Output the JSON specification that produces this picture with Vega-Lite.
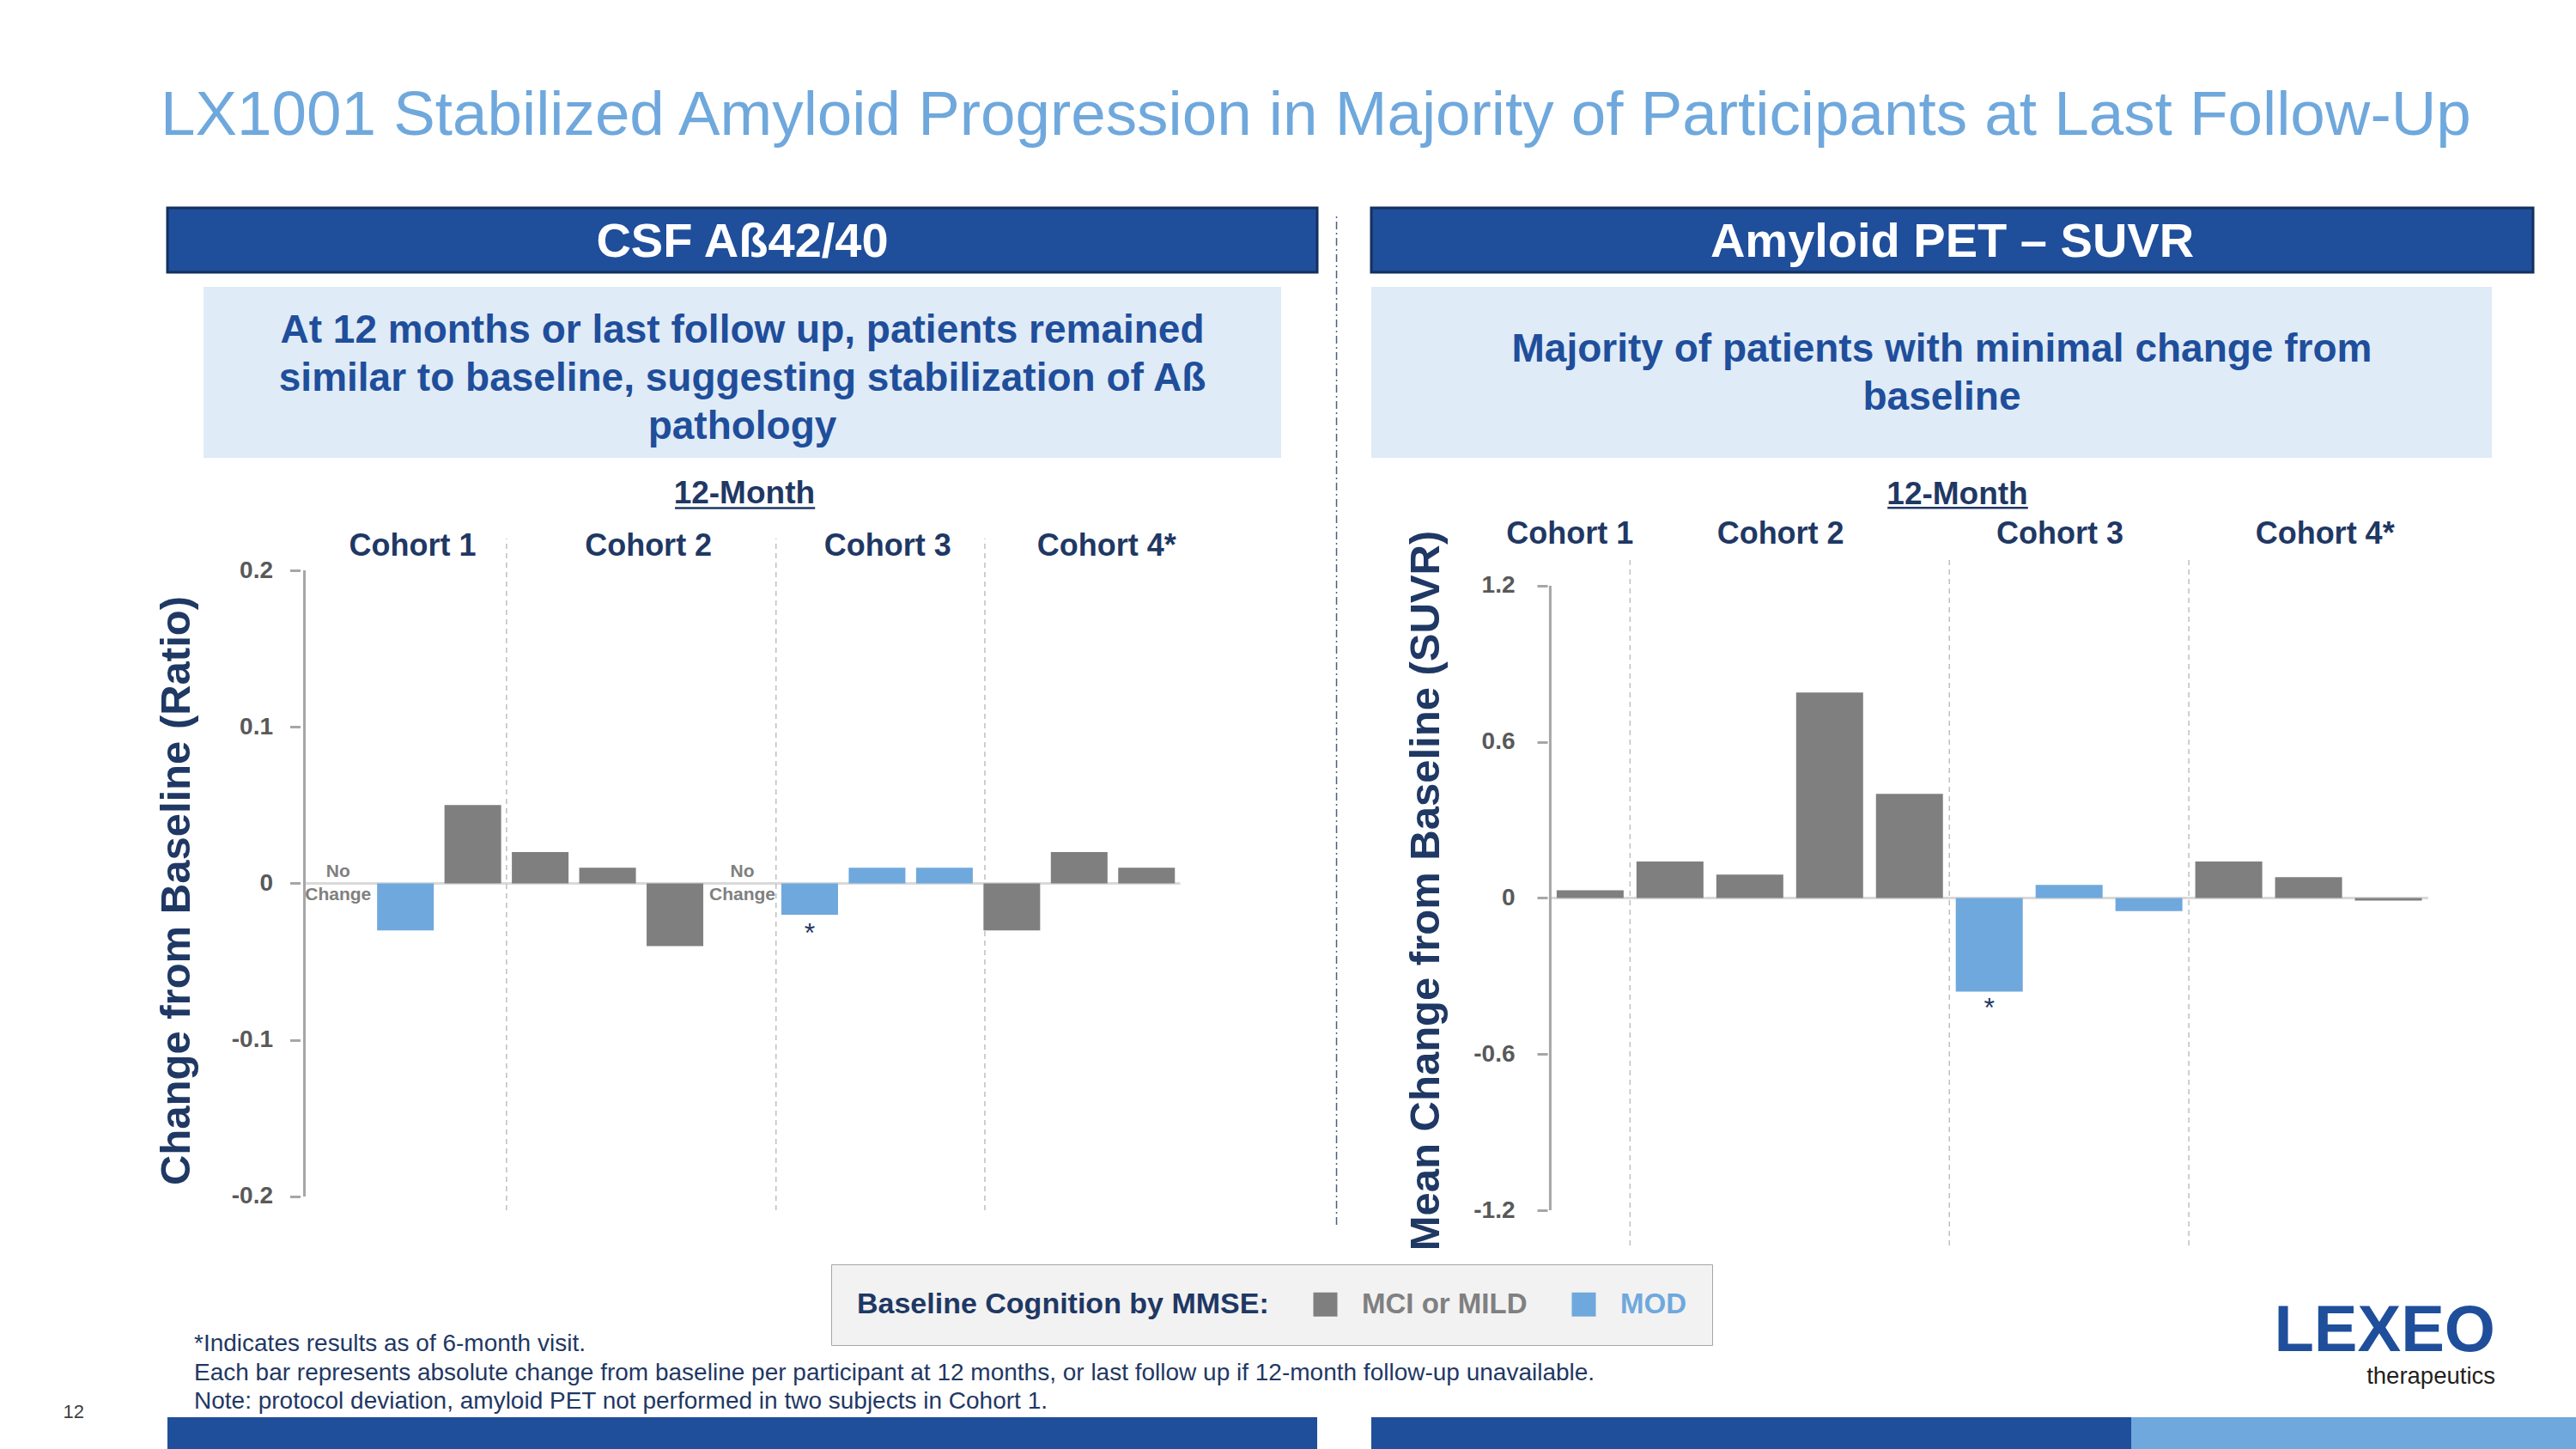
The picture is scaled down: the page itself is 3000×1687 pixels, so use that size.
{
  "$schema": "https://vega.github.io/schema/vega-lite/v6.json",
  "background": "white",
  "padding": {"left": 73, "top": 98, "right": 0, "bottom": 0},
  "config": {"font": "Liberation Sans", "view": {"stroke": null}},
  "title": {
    "text": "LX1001 Stabilized Amyloid Progression in Majority of Participants at Last Follow-Up",
    "anchor": "start", "frame": "group", "fontSize": 72.8, "fontWeight": "normal",
    "color": "#6FA8DC", "offset": 69, "dx": -8
  },
  "datasets": {
    "csf": [
      {"slot": 1, "cohort": "Cohort 1", "group": null, "value": null, "note": "No Change"},
      {"slot": 2, "cohort": "Cohort 1", "group": "MOD", "value": -0.03, "note": ""},
      {"slot": 3, "cohort": "Cohort 1", "group": "MCI or MILD", "value": 0.05, "note": ""},
      {"slot": 4, "cohort": "Cohort 2", "group": "MCI or MILD", "value": 0.02, "note": ""},
      {"slot": 5, "cohort": "Cohort 2", "group": "MCI or MILD", "value": 0.01, "note": ""},
      {"slot": 6, "cohort": "Cohort 2", "group": "MCI or MILD", "value": -0.04, "note": ""},
      {"slot": 7, "cohort": "Cohort 2", "group": null, "value": null, "note": "No Change"},
      {"slot": 8, "cohort": "Cohort 3", "group": "MOD", "value": -0.02, "note": "*"},
      {"slot": 9, "cohort": "Cohort 3", "group": "MOD", "value": 0.01, "note": ""},
      {"slot": 10, "cohort": "Cohort 3", "group": "MOD", "value": 0.01, "note": ""},
      {"slot": 11, "cohort": "Cohort 4*", "group": "MCI or MILD", "value": -0.03, "note": ""},
      {"slot": 12, "cohort": "Cohort 4*", "group": "MCI or MILD", "value": 0.02, "note": ""},
      {"slot": 13, "cohort": "Cohort 4*", "group": "MCI or MILD", "value": 0.01, "note": ""}
    ],
    "pet": [
      {"slot": 1, "cohort": "Cohort 1", "group": "MCI or MILD", "value": 0.03, "note": ""},
      {"slot": 2, "cohort": "Cohort 2", "group": "MCI or MILD", "value": 0.14, "note": ""},
      {"slot": 3, "cohort": "Cohort 2", "group": "MCI or MILD", "value": 0.09, "note": ""},
      {"slot": 4, "cohort": "Cohort 2", "group": "MCI or MILD", "value": 0.79, "note": ""},
      {"slot": 5, "cohort": "Cohort 2", "group": "MCI or MILD", "value": 0.40, "note": ""},
      {"slot": 6, "cohort": "Cohort 3", "group": "MOD", "value": -0.36, "note": "*"},
      {"slot": 7, "cohort": "Cohort 3", "group": "MOD", "value": 0.05, "note": ""},
      {"slot": 8, "cohort": "Cohort 3", "group": "MOD", "value": -0.05, "note": ""},
      {"slot": 9, "cohort": "Cohort 4*", "group": "MCI or MILD", "value": 0.14, "note": ""},
      {"slot": 10, "cohort": "Cohort 4*", "group": "MCI or MILD", "value": 0.08, "note": ""},
      {"slot": 11, "cohort": "Cohort 4*", "group": "MCI or MILD", "value": -0.01, "note": ""}
    ]
  },
  "columns": 2,
  "bounds": "flush",
  "center": true,
  "spacing": {"row": 17, "column": 63},
  "resolve": {"scale": {"x": "independent", "y": "independent", "color": "shared"}, "legend": {"color": "shared"}},
  "concat": [
    {
      "width": 1339, "height": 75,
      "view": {"fill": "#1F4E9B", "stroke": "#14305E", "strokeWidth": 3},
      "data": {"values": [{"t": "CSF Aß42/40"}]},
      "mark": {"type": "text", "color": "white", "fontSize": 56, "fontWeight": "bold", "baseline": "middle", "align": "center", "dy": 2},
      "encoding": {"text": {"field": "t"}}
    },
    {
      "width": 1353, "height": 75,
      "view": {"fill": "#1F4E9B", "stroke": "#14305E", "strokeWidth": 3},
      "data": {"values": [{"t": "Amyloid PET – SUVR"}]},
      "mark": {"type": "text", "color": "white", "fontSize": 56, "fontWeight": "bold", "baseline": "middle", "align": "center", "dy": 2},
      "encoding": {"text": {"field": "t"}}
    },
    {
      "width": 1255, "height": 199,
      "view": {"fill": "#DFEBF7"},
      "data": {"values": [{"t": "At 12 months or last follow up, patients remained|similar to baseline, suggesting stabilization of Aß|pathology"}]},
      "mark": {"type": "text", "color": "#1F4E9B", "fontSize": 46, "fontWeight": "bold", "baseline": "middle", "align": "center", "lineBreak": "|", "lineHeight": 56, "dy": -49},
      "encoding": {"text": {"field": "t"}}
    },
    {
      "width": 1305, "height": 199,
      "view": {"fill": "#DFEBF7"},
      "data": {"values": [{"t": "Majority of patients with minimal change from|baseline"}]},
      "mark": {"type": "text", "color": "#1F4E9B", "fontSize": 46, "fontWeight": "bold", "baseline": "middle", "align": "center", "lineBreak": "|", "lineHeight": 56, "dy": -27, "dx": 12},
      "encoding": {"text": {"field": "t"}}
    },
    {"width": 1030, "height": 97, "data": {"values": []}, "mark": "point"},
    {"width": 1236, "height": 97, "data": {"values": []}, "mark": "point"},
    {
      "width": 1030, "height": 745,
      "data": {"name": "csf"},
      "layer": [
        {
          "data": {"values": [{}]},
          "mark": {"type": "rule", "color": "#D9D9D9", "strokeWidth": 3},
          "encoding": {
            "x": {"datum": 0.5, "type": "quantitative", "scale": {"domain": [0.5, 13.5], "nice": false, "zero": false}, "axis": {"title": null}},
            "x2": {"datum": 13.5},
            "y": {"datum": 0, "type": "quantitative", "scale": {"domain": [-0.2088, 0.2], "nice": false, "zero": false}}
          }
        },
        {
          "data": {"values": [{"boundary": 3.5}, {"boundary": 7.5}, {"boundary": 10.6}]},
          "mark": {"type": "rule", "color": "#BFBFBF", "strokeWidth": 1.5, "strokeDash": [6, 5]},
          "encoding": {
            "x": {"field": "boundary", "type": "quantitative", "scale": {"domain": [0.5, 13.5], "nice": false, "zero": false}, "axis": {"title": null}},
            "y": {"datum": -0.2088, "type": "quantitative", "scale": {"domain": [-0.2088, 0.2], "nice": false, "zero": false}},
            "y2": {"datum": 0.2203}
          }
        },
        {
          "data": {"values": [{}]},
          "mark": {"type": "rule", "color": "#1F3864", "strokeWidth": 1.5, "strokeDash": [9, 4, 2, 4], "opacity": 0.8},
          "encoding": {
            "x": {"datum": 15.82, "type": "quantitative", "scale": {"domain": [0.5, 13.5], "nice": false, "zero": false}, "axis": {"title": null}},
            "y": {"datum": -0.2181, "type": "quantitative", "scale": {"domain": [-0.2088, 0.2], "nice": false, "zero": false}},
            "y2": {"datum": 0.4266}
          }
        },
        {
          "data": {"values": [{"t": "12-Month"}]},
          "mark": {"type": "text", "fontSize": 37, "fontWeight": "bold", "color": "#1F3864", "baseline": "middle", "align": "center"},
          "encoding": {
            "x": {"datum": 7.03, "type": "quantitative", "scale": {"domain": [0.5, 13.5], "nice": false, "zero": false}, "axis": {"title": null}},
            "y": {"datum": 0.2488, "type": "quantitative", "scale": {"domain": [-0.2088, 0.2], "nice": false, "zero": false}},
            "text": {"field": "t"}
          }
        },
        {
          "data": {"values": [{}]},
          "mark": {"type": "rule", "color": "#1F3864", "strokeWidth": 2.5},
          "encoding": {
            "x": {"datum": 6.0, "type": "quantitative", "scale": {"domain": [0.5, 13.5], "nice": false, "zero": false}, "axis": {"title": null}},
            "x2": {"datum": 8.08},
            "y": {"datum": 0.2398, "type": "quantitative", "scale": {"domain": [-0.2088, 0.2], "nice": false, "zero": false}}
          }
        },
        {
          "transform": [{"filter": "isValid(datum.value)"}],
          "mark": {"type": "bar", "orient": "vertical", "width": 66},
          "encoding": {
            "x": {
              "field": "slot", "type": "quantitative",
              "scale": {"domain": [0.5, 13.5], "nice": false, "zero": false},
              "axis": {
                "orient": "top", "values": [2.1, 5.6, 9.15, 12.4],
                "labelExpr": "datum.value < 3 ? 'Cohort 1' : datum.value < 7 ? 'Cohort 2' : datum.value < 10 ? 'Cohort 3' : 'Cohort 4*'",
                "labelFontSize": 36, "labelFontWeight": "bold", "labelColor": "#1F3864", "labelPadding": 10,
                "domain": false, "ticks": false, "grid": false, "title": null, "labelFlush": false, "labelOverlap": false
              }
            },
            "y": {
              "field": "value", "type": "quantitative", "stack": null,
              "scale": {"domain": [-0.2088, 0.2], "nice": false, "zero": false},
              "axis": {
                "orient": "left", "values": [-0.2, -0.1, 0, 0.1, 0.2], "labelExpr": "toString(datum.value)",
                "title": "Change from Baseline (Ratio)", "titleFontSize": 49, "titleFontWeight": "bold", "titleColor": "#1F3864", "titlePadding": 39,
                "labelFontSize": 28, "labelFontWeight": "bold", "labelColor": "#595959", "labelPadding": 20,
                "tickSize": 12, "tickWidth": 3, "tickColor": "#A6A6A6", "domain": false, "grid": false
              }
            },
            "color": {
              "field": "group", "type": "nominal",
              "scale": {"domain": ["MCI or MILD", "MOD"], "range": ["#7F7F7F", "#6FA8DC"]},
              "legend": {
                "orient": "none", "legendX": 773, "legendY": 1230, "direction": "horizontal",
                "title": "Baseline Cognition by MMSE:", "titleOrient": "left", "titleFontSize": 34, "titleFontWeight": "bold", "titleColor": "#1F3864", "titlePadding": 49, "titleLimit": 1000,
                "symbolType": "square", "symbolSize": 784, "symbolStrokeWidth": 0, "symbolOpacity": 1,
                "labelFontSize": 33, "labelFontWeight": "bold",
                "labelColor": {"expr": "datum.label == 'MOD' ? '#6FA8DC' : '#808080'"},
                "labelOffset": 26, "columnPadding": 49, "padding": 30, "labelLimit": 500,
                "fillColor": "#F2F2F2", "strokeColor": "#A6A6A6"
              }
            }
          }
        },
        {
          "data": {"values": [{}]},
          "mark": {"type": "rule", "color": "#A6A6A6", "strokeWidth": 3},
          "encoding": {
            "x": {"datum": 0.5, "type": "quantitative", "scale": {"domain": [0.5, 13.5], "nice": false, "zero": false}, "axis": {"title": null}},
            "y": {"datum": -0.2, "type": "quantitative", "scale": {"domain": [-0.2088, 0.2], "nice": false, "zero": false}},
            "y2": {"datum": 0.2}
          }
        },
        {
          "transform": [{"filter": "datum.note == 'No Change'"}],
          "mark": {"type": "text", "fontSize": 21, "fontWeight": "bold", "color": "#808080", "baseline": "bottom", "align": "center", "lineBreak": " ", "lineHeight": 27, "dy": -3},
          "encoding": {
            "x": {"field": "slot", "type": "quantitative", "scale": {"domain": [0.5, 13.5], "nice": false, "zero": false}, "axis": {"title": null}},
            "y": {"datum": 0, "type": "quantitative", "scale": {"domain": [-0.2088, 0.2], "nice": false, "zero": false}},
            "text": {"field": "note"}
          }
        },
        {
          "transform": [{"filter": "datum.note == '*'"}],
          "mark": {"type": "text", "fontSize": 32, "color": "#1F3864", "baseline": "top", "align": "center", "dy": 7},
          "encoding": {
            "x": {"field": "slot", "type": "quantitative", "scale": {"domain": [0.5, 13.5], "nice": false, "zero": false}, "axis": {"title": null}},
            "y": {"field": "value", "type": "quantitative", "scale": {"domain": [-0.2088, 0.2], "nice": false, "zero": false}},
            "text": {"field": "note"}
          }
        }
      ]
    },
    {
      "width": 1236, "height": 745,
      "data": {"name": "pet"},
      "layer": [
        {
          "data": {"values": [{}]},
          "mark": {"type": "rule", "color": "#D9D9D9", "strokeWidth": 3},
          "encoding": {
            "x": {"datum": 0.5, "type": "quantitative", "scale": {"domain": [-1.688, 11.5], "nice": false, "zero": false}, "axis": {"title": null}},
            "x2": {"datum": 11.5},
            "y": {"datum": 0, "type": "quantitative", "scale": {"domain": [-1.2, 1.2593], "nice": false, "zero": false}}
          }
        },
        {
          "data": {"values": [{"boundary": 1.5}, {"boundary": 5.5}, {"boundary": 8.5}]},
          "mark": {"type": "rule", "color": "#BFBFBF", "strokeWidth": 1.5, "strokeDash": [6, 5]},
          "encoding": {
            "x": {"field": "boundary", "type": "quantitative", "scale": {"domain": [-1.688, 11.5], "nice": false, "zero": false}, "axis": {"title": null}},
            "y": {"datum": -1.335, "type": "quantitative", "scale": {"domain": [-1.2, 1.2593], "nice": false, "zero": false}},
            "y2": {"datum": 1.315}
          }
        },
        {
          "data": {"values": [{"t": "12-Month"}]},
          "mark": {"type": "text", "fontSize": 37, "fontWeight": "bold", "color": "#1F3864", "baseline": "middle", "align": "center"},
          "encoding": {
            "x": {"datum": 5.6, "type": "quantitative", "scale": {"domain": [-1.688, 11.5], "nice": false, "zero": false}, "axis": {"title": null}},
            "y": {"datum": 1.549, "type": "quantitative", "scale": {"domain": [-1.2, 1.2593], "nice": false, "zero": false}},
            "text": {"field": "t"}
          }
        },
        {
          "data": {"values": [{}]},
          "mark": {"type": "rule", "color": "#1F3864", "strokeWidth": 2.5},
          "encoding": {
            "x": {"datum": 4.725, "type": "quantitative", "scale": {"domain": [-1.688, 11.5], "nice": false, "zero": false}, "axis": {"title": null}},
            "x2": {"datum": 6.485},
            "y": {"datum": 1.4996, "type": "quantitative", "scale": {"domain": [-1.2, 1.2593], "nice": false, "zero": false}}
          }
        },
        {
          "mark": {"type": "bar", "orient": "vertical", "width": 78},
          "encoding": {
            "x": {
              "field": "slot", "type": "quantitative",
              "scale": {"domain": [-1.688, 11.5], "nice": false, "zero": false},
              "axis": {
                "orient": "top", "values": [0.74, 3.38, 6.88, 10.2],
                "labelExpr": "datum.value < 2 ? 'Cohort 1' : datum.value < 5.5 ? 'Cohort 2' : datum.value < 8.5 ? 'Cohort 3' : 'Cohort 4*'",
                "labelFontSize": 36, "labelFontWeight": "bold", "labelColor": "#1F3864", "labelPadding": 24,
                "domain": false, "ticks": false, "grid": false, "title": null, "labelFlush": false, "labelOverlap": false
              }
            },
            "y": {
              "field": "value", "type": "quantitative", "stack": null,
              "scale": {"domain": [-1.2, 1.2593], "nice": false, "zero": false},
              "axis": {
                "orient": "left", "offset": -205, "values": [-1.2, -0.6, 0, 0.6, 1.2], "labelExpr": "toString(datum.value)",
                "title": "Mean Change from Baseline (SUVR)", "titleFontSize": 49, "titleFontWeight": "bold", "titleColor": "#1F3864", "titlePadding": 30,
                "labelFontSize": 28, "labelFontWeight": "bold", "labelColor": "#595959", "labelPadding": 26,
                "tickSize": 12, "tickWidth": 3, "tickColor": "#A6A6A6", "domain": false, "grid": false
              }
            },
            "color": {
              "field": "group", "type": "nominal",
              "scale": {"domain": ["MCI or MILD", "MOD"], "range": ["#7F7F7F", "#6FA8DC"]},
              "legend": {
                "orient": "none", "legendX": 773, "legendY": 1230, "direction": "horizontal",
                "title": "Baseline Cognition by MMSE:", "titleOrient": "left", "titleFontSize": 34, "titleFontWeight": "bold", "titleColor": "#1F3864", "titlePadding": 49, "titleLimit": 1000,
                "symbolType": "square", "symbolSize": 784, "symbolStrokeWidth": 0, "symbolOpacity": 1,
                "labelFontSize": 33, "labelFontWeight": "bold",
                "labelColor": {"expr": "datum.label == 'MOD' ? '#6FA8DC' : '#808080'"},
                "labelOffset": 26, "columnPadding": 49, "padding": 30, "labelLimit": 500,
                "fillColor": "#F2F2F2", "strokeColor": "#A6A6A6"
              }
            }
          }
        },
        {
          "data": {"values": [{}]},
          "mark": {"type": "rule", "color": "#A6A6A6", "strokeWidth": 3},
          "encoding": {
            "x": {"datum": 0.5, "type": "quantitative", "scale": {"domain": [-1.688, 11.5], "nice": false, "zero": false}, "axis": {"title": null}},
            "y": {"datum": -1.2, "type": "quantitative", "scale": {"domain": [-1.2, 1.2593], "nice": false, "zero": false}},
            "y2": {"datum": 1.2}
          }
        },
        {
          "transform": [{"filter": "datum.note == '*'"}],
          "mark": {"type": "text", "fontSize": 32, "color": "#1F3864", "baseline": "top", "align": "center", "dy": 4},
          "encoding": {
            "x": {"field": "slot", "type": "quantitative", "scale": {"domain": [-1.688, 11.5], "nice": false, "zero": false}, "axis": {"title": null}},
            "y": {"field": "value", "type": "quantitative", "scale": {"domain": [-1.2, 1.2593], "nice": false, "zero": false}},
            "text": {"field": "note"}
          }
        }
      ]
    },
    {
      "width": 1030, "height": 207, "data": {"values": []}, "mark": "point",
      "title": {"text": "12", "orient": "bottom", "anchor": "start", "frame": "group", "dx": -276, "fontSize": 22, "fontWeight": "normal", "color": "#404040", "offset": 1}
    },
    {"width": 1236, "height": 207, "data": {"values": []}, "mark": "point"},
    {
      "width": 1339, "height": 38,
      "title": {
        "text": [
          "*Indicates results as of 6-month visit.",
          "Each bar represents absolute change from baseline per participant at 12 months, or last follow up if 12-month follow-up unavailable.",
          "Note: protocol deviation, amyloid PET not performed in two subjects in Cohort 1."
        ],
        "anchor": "start", "orient": "top", "frame": "group", "fontSize": 28, "fontWeight": "normal",
        "color": "#1F3864", "lineHeight": 33.5, "offset": 4, "dx": 31
      },
      "data": {"values": [{}]},
      "mark": {"type": "rect", "color": "#1F4E9B", "x2Offset": 64}
    },
    {
      "width": 1403, "height": 38,
      "title": {
        "text": "LEXEO", "subtitle": "therapeutics",
        "anchor": "end", "orient": "top", "frame": "group", "fontSize": 76, "fontWeight": "bold", "color": "#1F4E9B",
        "subtitleFontSize": 27.5, "subtitleColor": "#231F20", "subtitleFontWeight": "normal", "subtitlePadding": 0,
        "offset": 33, "dx": -94
      },
      "data": {"values": [{}]},
      "mark": {
        "type": "rect",
        "color": {
          "gradient": "linear", "x1": 0, "x2": 1, "y1": 0, "y2": 0,
          "stops": [
            {"offset": 0, "color": "#1F4E9B"},
            {"offset": 0.6308, "color": "#1F4E9B"},
            {"offset": 0.6309, "color": "#6FA8DC"},
            {"offset": 1, "color": "#6FA8DC"}
          ]
        }
      }
    }
  ]
}
